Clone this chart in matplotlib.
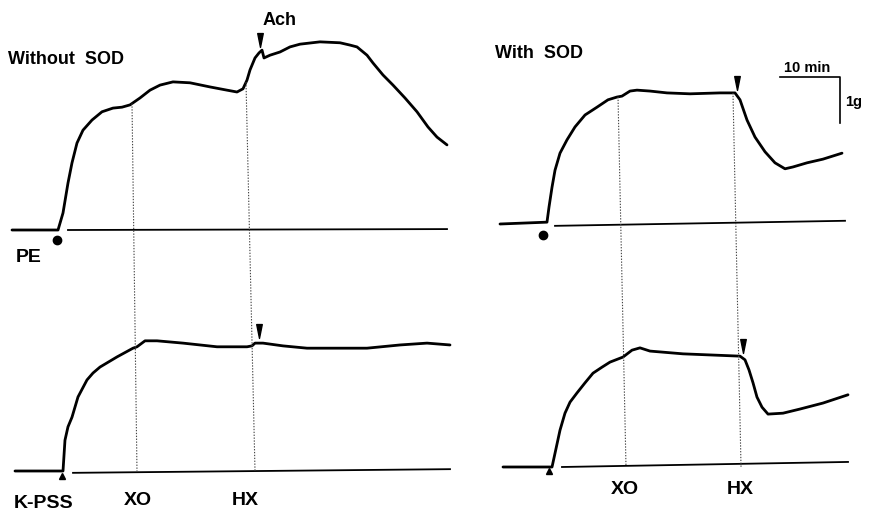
import numpy as np
import matplotlib
matplotlib.use("Agg")
import matplotlib.pyplot as plt
from matplotlib.path import Path

plt.rcParams['font.family'] = ['Liberation Sans', 'DejaVu Sans']

# ---------------- data (time in min from trace start, tension in g above baseline)
# A: Without SOD, PE-contracted
t_A = [0, 7.67, 8.5, 9.33, 10.0, 10.83, 11.83, 13.33, 15.0, 16.83, 18.33, 19.67, 21.33,
       23.0, 24.67, 26.83, 29.67, 33.0, 35.83, 37.5, 38.5, 39.17, 39.67, 40.5, 41.17,
       41.67, 42.0, 43.0, 44.67, 46.33, 48.0, 51.33, 54.67, 56.33, 57.5, 59.17, 60.17,
       61.83, 63.5, 65.5, 67.5, 69.33, 70.83, 72.5]
g_A = [0, 0, 0.37, 1.02, 1.46, 1.89, 2.17, 2.39, 2.57, 2.65, 2.67, 2.72, 2.87,
       3.04, 3.15, 3.22, 3.20, 3.11, 3.04, 3.00, 3.07, 3.26, 3.48, 3.74, 3.85,
       3.91, 3.74, 3.80, 3.87, 3.98, 4.04, 4.09, 4.07, 4.02, 3.98, 3.80, 3.63,
       3.37, 3.15, 2.87, 2.57, 2.24, 2.02, 1.85]
ref_A_t = [9.33, 72.5]
ref_A_g = [0.0, 0.02]

# B: Without SOD, K-PSS-contracted
t_B = [0, 8.0, 8.33, 8.83, 9.5, 10.5, 12.0, 13.0, 14.17, 17.0, 19.67, 20.33, 21.67,
       23.67, 28.0, 33.67, 38.67, 39.5, 40.0, 41.33, 44.67, 48.67, 53.0, 58.67, 64.17,
       68.67, 72.5]
g_B = [0, 0, 0.67, 0.96, 1.17, 1.61, 1.98, 2.13, 2.26, 2.48, 2.67, 2.70, 2.83,
       2.83, 2.78, 2.70, 2.70, 2.72, 2.78, 2.78, 2.72, 2.67, 2.67, 2.67, 2.74,
       2.78, 2.74]
ref_B_t = [9.67, 72.5]
ref_B_g = [-0.04, 0.04]

# C: With SOD, PE-contracted
t_C = [0, 7.83, 8.17, 8.67, 9.17, 10.0, 11.17, 12.5, 14.17, 16.17, 18.0, 19.5, 20.33,
       21.67, 22.83, 25.0, 27.83, 31.67, 36.67, 39.17, 40.0, 41.17, 42.5, 44.17, 45.83,
       47.5, 48.83, 51.17, 53.83, 57.0]
g_C = [0, 0.04, 0.37, 0.80, 1.17, 1.54, 1.83, 2.11, 2.37, 2.54, 2.70, 2.76, 2.78,
       2.89, 2.91, 2.89, 2.85, 2.83, 2.85, 2.85, 2.70, 2.26, 1.89, 1.57, 1.33,
       1.20, 1.24, 1.33, 1.41, 1.54]
ref_C_t = [9.17, 57.5]
ref_C_g = [-0.04, 0.07]

# D: With SOD, K-PSS-contracted
t_D = [0, 8.17, 8.67, 9.5, 10.33, 11.17, 12.33, 13.67, 15.0, 16.5, 17.83, 20.0, 21.5,
       22.83, 24.5, 30.0, 35.67, 39.5, 40.33, 41.0, 41.67, 42.33, 43.17, 44.17, 46.67,
       49.5, 53.33, 57.5]
g_D = [0, 0, 0.30, 0.80, 1.17, 1.41, 1.61, 1.83, 2.04, 2.17, 2.28, 2.39, 2.54,
       2.59, 2.52, 2.46, 2.43, 2.41, 2.33, 2.11, 1.83, 1.52, 1.30, 1.15, 1.17,
       1.26, 1.39, 1.57]
ref_D_t = [9.83, 57.5]
ref_D_g = [0.0, 0.11]

# event times (min from trace start): XO, HX
events_A = [20.0, 39.0]
events_B = [20.33, 40.0]
events_C = [19.67, 38.83]
events_D = [20.5, 39.67]
event_labels = ["XO", "HX"]

# Ach / arrowhead times
arrow_A, arrow_B, arrow_C, arrow_D = 41.33, 40.67, 39.5, 40.0
# stimulus marker times (PE dot, K-PSS triangle)
stim_A, stim_B, stim_C, stim_D = 7.5, 7.83, 7.17, 7.67

# ---------------- layout
W, H = 869, 511
PX_PER_MIN = 6.0
PX_PER_G = 46.0

def P(px, py):
    return px / PX_PER_MIN, (H - py) / PX_PER_G

# trace origins (pixel position of time 0 / baseline)
orig = {'A': P(12, 230), 'B': P(15, 471), 'C': P(500, 224), 'D': P(503, 467)}

fig = plt.figure(figsize=(W / 100, H / 100), dpi=100)
ax = fig.add_axes([0, 0, 1, 1])
ax.set_xlim(0, W / PX_PER_MIN)
ax.set_ylim(0, H / PX_PER_G)
ax.axis('off')

def place(key, t, g):
    x0, y0 = orig[key]
    return np.asarray(t, float) + x0, np.asarray(g, float) + y0

traces = {'A': (t_A, g_A, ref_A_t, ref_A_g), 'B': (t_B, g_B, ref_B_t, ref_B_g),
          'C': (t_C, g_C, ref_C_t, ref_C_g), 'D': (t_D, g_D, ref_D_t, ref_D_g)}
for k, (t, g, rt, rg) in traces.items():
    x, y = place(k, t, g)
    ax.plot(x, y, color='black', lw=2.0, solid_joinstyle='round', solid_capstyle='round')
    x, y = place(k, rt, rg)
    ax.plot(x, y, color='black', lw=1.3)

# dotted event lines from top trace to bottom baseline
for top, bot, ev_top, ev_bot in [('A', 'B', events_A, events_B), ('C', 'D', events_C, events_D)]:
    tt, gt = traces[top][0], traces[top][1]
    for e1, e2 in zip(ev_top, ev_bot):
        x1, y1 = place(top, [e1], [np.interp(e1, tt, gt)])
        x2, y2 = place(bot, [e2], [0.0])
        ax.plot([x1[0], x2[0]], [y1[0], y2[0]], color='#444444', lw=0.8,
                linestyle=(0, (1.2, 1.4)))

# arrowheads
arrow_path = Path([(-0.2, 0.5), (0.2, 0.5), (0, -0.5), (-0.2, 0.5)],
                  [Path.MOVETO, Path.LINETO, Path.LINETO, Path.CLOSEPOLY])
gap = 10 / PX_PER_G
for k, ta in [('A', arrow_A), ('B', arrow_B), ('C', arrow_C), ('D', arrow_D)]:
    t, g = traces[k][0], traces[k][1]
    x, y = place(k, [ta], [np.interp(ta, t, g) + gap + 0.05])
    ax.plot(x, y, marker=arrow_path, markersize=10, color='black', linestyle='none')

# stimulus markers
for k, ts, off, mk, ms in [('A', stim_A, -0.22, 'o', 6), ('C', stim_C, -0.24, 'o', 6),
                           ('B', stim_B, -0.10, '^', 4.5), ('D', stim_D, -0.08, '^', 4.5)]:
    x, y = place(k, [ts], [off])
    ax.plot(x, y, marker=mk, markersize=ms, color='black', linestyle='none')

# scale bar 10 min / 1 g
sx, sy = P(840, 77)
ax.plot([sx - 10, sx, sx], [sy, sy, sy - 1], color='black', lw=1.2)

def label(px, py, s, size=14, weight='bold'):
    x, y = P(px, py)
    ax.text(x, y, s, fontsize=size, fontweight=weight, ha='left', va='baseline')

label(8, 64, "Without  SOD", 13)
label(495, 58, "With  SOD", 13)
label(263, 25, "Ach", 13)
label(16, 262, "PE", 14)
label(14, 508, "K-PSS", 14)
label(124, 505, event_labels[0], 14)
label(232, 505, event_labels[1], 14)
label(611, 494, event_labels[0], 14)
label(727, 494, event_labels[1], 14)
label(784, 72, "10 min", 10.5)
label(845, 106, "1g", 10.5)

fig.savefig("out.png", dpi=100)
